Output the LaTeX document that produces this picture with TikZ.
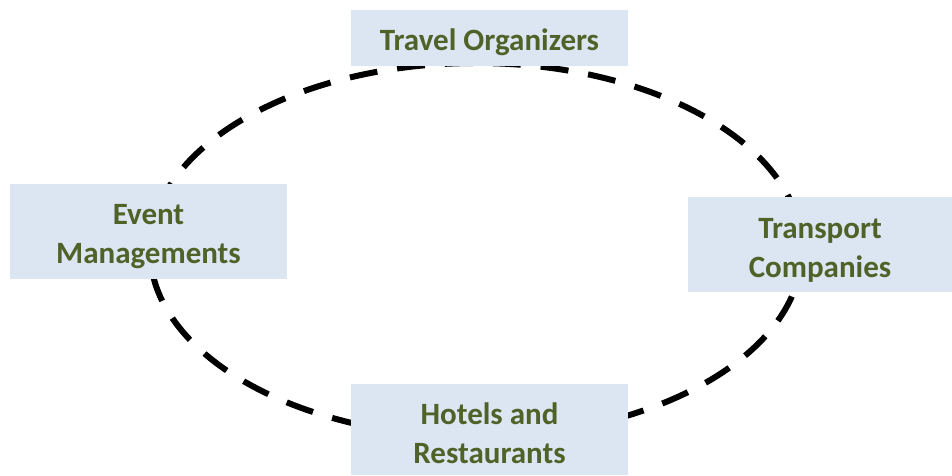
\documentclass[tikz,border=0pt]{standalone}
\usepackage{fontspec}
\setmainfont{Carlito}
\definecolor{boxfill}{HTML}{DCE6F2}
\definecolor{txtgreen}{HTML}{4F6228}
\begin{document}
\begin{tikzpicture}[x=1pt,y=-1pt,
  card/.style={fill=boxfill, draw=none, inner sep=0pt},
  cardtext/.style={text=txtgreen, align=center, inner sep=0pt,
    font=\fontsize{31}{39}\selectfont\bfseries},
  ring/.style={line width=6pt, dash pattern=on 28pt off 20pt, black}]
\useasboundingbox (0,0) rectangle (952,475);
\draw[ring] (476,250) ellipse [x radius=326, y radius=187];
\node[card, minimum width=277pt, minimum height=56pt] (travel) at (489.5,38) {};
\node[card, minimum width=277pt, minimum height=95pt] (event) at (148.5,231.5) {};
\node[card, minimum width=264pt, minimum height=95pt] (transport) at (820,244.5) {};
\node[card, minimum width=277pt, minimum height=91pt] (hotels) at (489.5,429.5) {};
\node[cardtext] (traveltext) at ([yshift=-4pt]travel.center) {Travel Organizers};
\node[cardtext] (eventtext) at ([yshift=-5pt]event.center) {Event\\Managements};
\node[cardtext] (transporttext) at ([yshift=-6pt]transport.center) {Transport\\Companies};
\node[cardtext] (hotelstext) at ([yshift=-4pt]hotels.center) {Hotels and\\Restaurants};
\end{tikzpicture}
\end{document}
